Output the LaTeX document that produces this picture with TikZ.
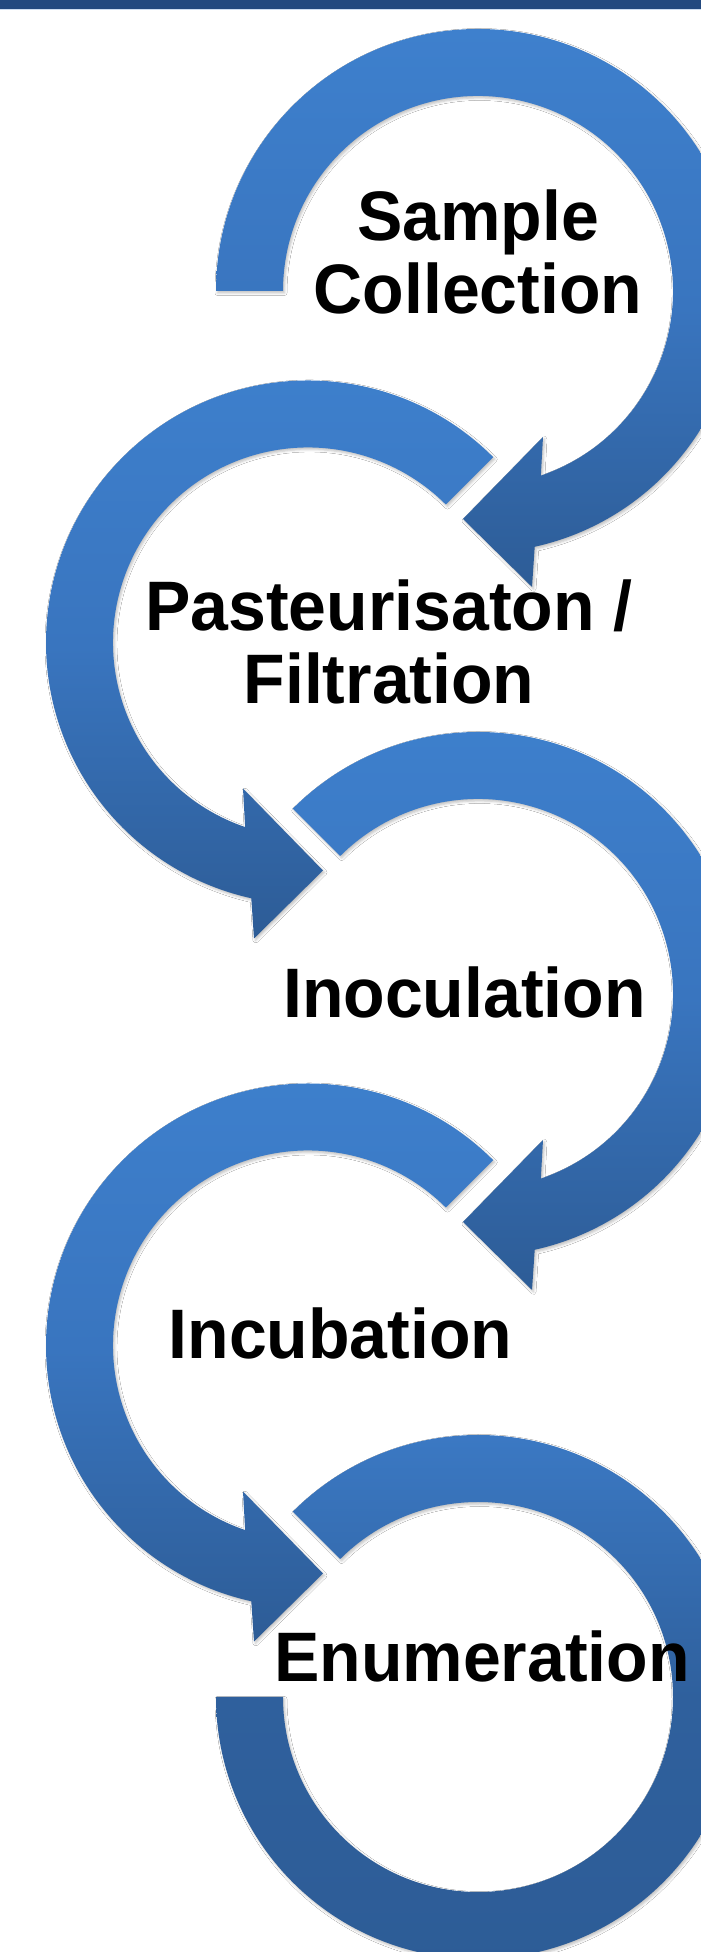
\documentclass[tikz,border=0pt]{standalone}
\usepackage{fontspec}
\setmainfont{Liberation Sans}
\usetikzlibrary{shadows.blur}
\definecolor{ringtop}{RGB}{62,128,205}
\definecolor{ringmid}{RGB}{57,117,191}
\definecolor{ringbot}{RGB}{45,92,150}
\definecolor{lasttop}{RGB}{60,123,199}
\definecolor{lastmid}{RGB}{47,96,157}
\definecolor{barblue}{RGB}{35,73,127}
\definecolor{barline}{RGB}{205,220,240}
\tikzset{
  ring/.style={top color=ringtop, bottom color=ringbot, middle color=ringmid, draw=none,
    blur shadow={shadow xshift=1.5pt, shadow yshift=-2pt, shadow blur radius=2.5pt, shadow opacity=25}},
  lastring/.style={ring, top color=lasttop, bottom color=ringbot, middle color=lastmid},
  steptext/.style={font=\bfseries\fontsize{68}{71.5}\selectfont, text=black, align=center,
    inner sep=0pt, anchor=base, yscale=1.03, transform shape}
}
\begin{document}
\begin{tikzpicture}[x=1pt,y=1pt]
\useasboundingbox (0,0) rectangle (701,1952);
\fill[white] (0,0) rectangle (701,1952);
% top bar
\fill[barblue] (0,1943) rectangle (701,1952);
\fill[barline] (0,1941.5) rectangle (701,1943);
% circle 1 (clockwise, from left)
\begin{scope}[shift={(478,1661)}]
  \path[ring] (180:262) arc[start angle=180, end angle=-77.5, radius=262]
    -- (54,-296) -- (-15,-228) -- (65,-146) -- (-71.2:195)
    arc[start angle=-71.2, end angle=180, radius=195] -- cycle;
\end{scope}
% circle 2 (counter-clockwise)
\begin{scope}[shift={(308,1309.5)}]
  \path[ring] (45:262) arc[start angle=45, end angle=257.5, radius=262]
    -- (-54,-296) -- (15,-228) -- (-65,-146) -- (251.2:195)
    arc[start angle=251.2, end angle=45, radius=195] -- cycle;
\end{scope}
% circle 3 (clockwise)
\begin{scope}[shift={(478,958)}]
  \path[ring] (135:262) arc[start angle=135, end angle=-77.5, radius=262]
    -- (54,-296) -- (-15,-228) -- (65,-146) -- (-71.2:195)
    arc[start angle=-71.2, end angle=135, radius=195] -- cycle;
\end{scope}
% circle 4 (counter-clockwise)
\begin{scope}[shift={(308,606.5)}]
  \path[ring] (45:262) arc[start angle=45, end angle=257.5, radius=262]
    -- (-54,-296) -- (15,-228) -- (-65,-146) -- (251.2:195)
    arc[start angle=251.2, end angle=45, radius=195] -- cycle;
\end{scope}
% circle 5 (clockwise, ends at left)
\begin{scope}[shift={(478,255)}]
  \path[lastring] (135:262) arc[start angle=135, end angle=-180, radius=262]
    -- (180:195) arc[start angle=-180, end angle=135, radius=195] -- cycle;
\end{scope}
% texts
\node[steptext] (t1) at (478,1638) {Sample\\Collection};
\node[steptext] (t2) at (389,1248) {Pasteurisaton /\\Filtration};
\node[steptext] (t3) at (464.5,934) {Inoculation};
\node[steptext] (t4) at (340.5,593) {Incubation};
\node[steptext] (t5) at (482,270) {Enumeration};
\end{tikzpicture}
\end{document}
